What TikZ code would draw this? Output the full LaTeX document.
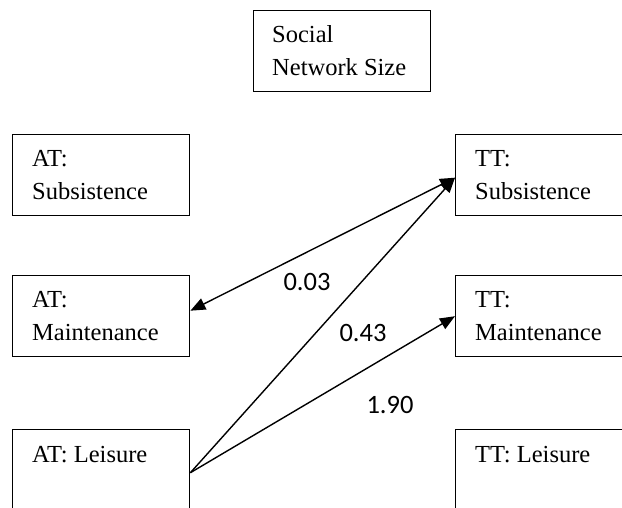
\documentclass[tikz,border=0pt]{standalone}
\usepackage{fontspec}
\setmainfont{Liberation Serif}
\newfontfamily\numfont{Carlito}
\usetikzlibrary{arrows.meta}
\tikzset{
  box/.style={draw, line width=1.4pt, anchor=north west, minimum width=177pt, minimum height=81pt, inner sep=0pt},
  boxtext/.style={anchor=base west, align=left, inner sep=0pt, font=\fontsize{24.5}{33}\selectfont},
  coef/.style={font=\numfont\fontsize{26.5}{30}\selectfont, inner sep=0pt},
  tip/.style={},
  link/.style={line width=1.4pt, -{Triangle[length=15pt,width=12pt]}},
  dlink/.style={line width=1.4pt, {Triangle[length=15pt,width=12pt]}-{Triangle[length=15pt,width=12pt]}}
}
\begin{document}
\begin{tikzpicture}[x=1pt,y=-1pt]
\useasboundingbox (0,0) rectangle (622,508);
\clip (0,0) rectangle (622,508);
\fill[white] (0,0) rectangle (622,508);
% boxes
\node[box] (sns) at (253,10) {};
\node[box] (ats) at (12,134) {};
\node[box] (tts) at (455,134) {};
\node[box] (atm) at (12,275) {};
\node[box] (ttm) at (455,275) {};
\node[box] (atl) at (12,429) {};
\node[box] (ttl) at (455,429) {};
% texts (base anchor = last line)
\node[boxtext] (snsT) at ([xshift=19pt,yshift=-66pt]sns.north west) {Social\\Network Size};
\node[boxtext] (atsT) at ([xshift=20pt,yshift=-66pt]ats.north west) {AT:\\Subsistence};
\node[boxtext] (ttsT) at ([xshift=20pt,yshift=-66pt]tts.north west) {TT:\\Subsistence};
\node[boxtext] (atmT) at ([xshift=20pt,yshift=-66pt]atm.north west) {AT:\\Maintenance};
\node[boxtext] (ttmT) at ([xshift=20pt,yshift=-66pt]ttm.north west) {TT:\\Maintenance};
\node[boxtext] (atlT) at ([xshift=20pt,yshift=-33pt]atl.north west) {AT: Leisure};
\node[boxtext] (ttlT) at ([xshift=20pt,yshift=-33pt]ttl.north west) {TT: Leisure};
% connection points
\coordinate (tsIn) at ([yshift=-2.5pt]tts.west);
\coordinate (amOut) at ([yshift=5.5pt]atm.east);
\coordinate (alOut) at ([yshift=-2.5pt]atl.east);
\coordinate (tmIn) at ([yshift=0pt]ttm.west);
% arrows
\draw[dlink] (amOut) -- (tsIn);
\draw[link] (alOut) -- (tsIn);
\draw[link] (alOut) -- (tmIn);
% coefficients
\node[coef] (c1) at (307,282) {0.03};
\node[coef] (c2) at (363,333) {0.43};
\node[coef] (c3) at (390,405) {1.90};
\end{tikzpicture}
\end{document}
